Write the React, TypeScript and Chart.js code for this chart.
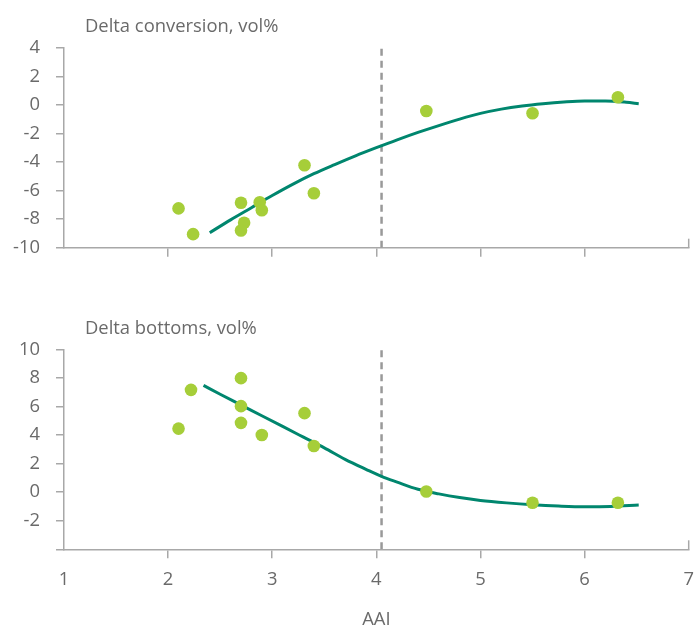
import React, { useEffect, useRef } from 'react';
import { Chart, registerables } from 'chart.js';
Chart.register(...registerables);

// ---- Data ----
const convPointsX = [2.1, 2.24, 2.7, 2.73, 2.7, 2.88, 2.9, 3.31, 3.4, 4.48, 5.5, 6.32];
const convPointsY = [-7.25, -9.05, -6.85, -8.25, -8.8, -6.82, -7.38, -4.23, -6.19, -0.43, -0.59, 0.53];
const convFitX = [2.4, 2.6, 2.8, 3.0, 3.2, 3.4, 3.6, 3.8, 4.0, 4.2, 4.4, 4.6, 4.8, 5.0, 5.2, 5.4, 5.6, 5.8, 6.0, 6.2, 6.4, 6.52];
const convFitY = [-8.95, -8.05, -7.2, -6.35, -5.55, -4.82, -4.18, -3.57, -3.0, -2.45, -1.93, -1.45, -1.0, -0.6, -0.3, -0.08, 0.08, 0.2, 0.27, 0.27, 0.18, 0.08];

const botPointsX = [2.1, 2.22, 2.7, 2.7, 2.7, 2.9, 3.31, 3.4, 4.48, 5.5, 6.32];
const botPointsY = [4.45, 7.16, 7.98, 6.02, 4.85, 4.0, 5.53, 3.23, 0.05, -0.74, -0.74];
const botFitX = [2.34, 2.5, 2.7, 2.9, 3.1, 3.3, 3.5, 3.7, 3.9, 4.05, 4.2, 4.4, 4.6, 4.8, 5.0, 5.25, 5.5, 5.75, 6.0, 6.25, 6.52];
const botFitY = [7.47, 6.85, 6.1, 5.35, 4.6, 3.85, 3.1, 2.3, 1.6, 1.1, 0.7, 0.2, -0.12, -0.38, -0.58, -0.75, -0.88, -0.97, -1.02, -1.0, -0.9];

const thresholdX = 4.05;
const xTicksRange = [1, 7];
const convYRange = [-10, 4];
const botYRange = [-4, 10];

const convTitle = 'Delta conversion, vol%';
const botTitle = 'Delta bottoms, vol%';
const xAxisTitle = 'AAI';

// ---- Styles ----
const FONT = "'Open Sans', 'Noto Sans', sans-serif";
const FONT_SIZE = 18.4;
const textGray = '#6a6a6a';
const axisGray = '#a8a8a8';
const dotGreen = '#a6ce39';
const lineTeal = '#00866e';
const dashGray = '#999999';

function zip(xs: number[], ys: number[]) {
  return xs.map((x, i) => ({ x, y: ys[i] }));
}

function makeConfig(opts: {
  title: string;
  px: number[]; py: number[]; fx: number[]; fy: number[];
  yRange: number[]; hideY: number | null;
  padTop: number; xHeight: number; showX: boolean; titleY: number;
}): any {
  const titlePlugin = {
    id: 'panelTitle',
    afterDraw(chart: any) {
      const ctx = chart.ctx;
      ctx.save();
      ctx.font = `${FONT_SIZE}px ${FONT}`;
      ctx.fillStyle = textGray;
      ctx.textAlign = 'left';
      ctx.textBaseline = 'middle';
      ctx.fillText(opts.title, chart.chartArea.left + 21, opts.titleY);
      // upward end tick at x max
      const xs = chart.scales.x;
      const px = xs.getPixelForValue(xTicksRange[1]);
      const b = chart.chartArea.bottom;
      ctx.strokeStyle = axisGray;
      ctx.lineWidth = 1.5;
      ctx.beginPath();
      ctx.moveTo(px, b);
      ctx.lineTo(px, b - 9);
      ctx.stroke();
      ctx.restore();
    },
  };
  const font = { family: FONT, size: FONT_SIZE };
  return {
    type: 'scatter',
    data: {
      datasets: [
        {
          type: 'scatter',
          data: zip(opts.px, opts.py),
          backgroundColor: dotGreen,
          borderWidth: 0,
          pointRadius: 6.3,
        },
        {
          type: 'line',
          data: zip(opts.fx, opts.fy),
          borderColor: lineTeal,
          borderWidth: 3,
          pointRadius: 0,
          cubicInterpolationMode: 'monotone',
          fill: false,
        },
        {
          type: 'line',
          data: [{ x: thresholdX, y: opts.yRange[0] }, { x: thresholdX, y: opts.yRange[1] }],
          borderColor: dashGray,
          borderWidth: 2.5,
          borderDash: [7, 5],
          pointRadius: 0,
          fill: false,
        },
      ],
    },
    options: {
      responsive: false,
      animation: false,
      layout: { padding: { top: opts.padTop, right: 5, left: 0, bottom: 0 } },
      plugins: { legend: { display: false }, tooltip: { enabled: false } },
      scales: {
        x: {
          type: 'linear',
          min: xTicksRange[0],
          max: xTicksRange[1],
          ticks: {
            stepSize: 1,
            color: opts.showX ? textGray : 'rgba(0,0,0,0)',
            padding: 10,
            font,
            maxRotation: 0,
            autoSkip: false,
          },
          grid: {
            drawOnChartArea: false,
            drawTicks: true,
            tickLength: 9,
            lineWidth: 1.5,
            color: (c: any) =>
              c.tick && (c.tick.value === xTicksRange[0] || c.tick.value === xTicksRange[1])
                ? 'rgba(0,0,0,0)'
                : axisGray,
          },
          border: { display: true, color: axisGray, width: 1.5 },
          title: opts.showX
            ? { display: true, text: xAxisTitle, color: textGray, font, padding: { top: 0, bottom: 13 } }
            : { display: false },
          afterFit: (s: any) => {
            s.height = opts.xHeight;
            s.paddingLeft = 0;
            s.paddingRight = 0;
          },
        },
        y: {
          type: 'linear',
          min: opts.yRange[0],
          max: opts.yRange[1],
          ticks: {
            stepSize: 2,
            padding: 16,
            color: textGray,
            font,
            callback: (v: any) => (opts.hideY !== null && v === opts.hideY ? '' : String(v)),
          },
          grid: { drawOnChartArea: false, drawTicks: true, tickLength: 8, lineWidth: 1.5, color: axisGray },
          border: { display: true, color: axisGray, width: 1.5 },
          afterFit: (s: any) => { s.width = 64; },
        },
      },
    },
    plugins: [titlePlugin],
  };
}

function Panel(props: { config: any; width: number; height: number }) {
  const ref = useRef<HTMLCanvasElement | null>(null);
  useEffect(() => {
    if (!ref.current) return;
    const chart = new Chart(ref.current, props.config);
    return () => chart.destroy();
  }, []);
  return <canvas ref={ref} width={props.width} height={props.height} style={{ display: 'block', width: props.width, height: props.height }} />;
}

export default function App() {
  const topCfg = makeConfig({
    title: convTitle, px: convPointsX, py: convPointsY, fx: convFitX, fy: convFitY,
    yRange: convYRange, hideY: null, padTop: 47.7, xHeight: 52.3, showX: false, titleY: 26.5,
  });
  const botCfg = makeConfig({
    title: botTitle, px: botPointsX, py: botPointsY, fx: botFitX, fy: botFitY,
    yRange: botYRange, hideY: -4, padTop: 49.3, xHeight: 94.7, showX: true, titleY: 29,
  });
  return (
    <div style={{ position: 'fixed', left: 0, top: 0, width: 695, height: 626, overflow: 'hidden', background: '#fff' }}>
      <div style={{ position: 'absolute', left: 0, top: 0 }}>
        <Panel config={topCfg} width={695} height={300} />
      </div>
      <div style={{ position: 'absolute', left: 0, top: 300 }}>
        <Panel config={botCfg} width={695} height={344} />
      </div>
    </div>
  );
}
